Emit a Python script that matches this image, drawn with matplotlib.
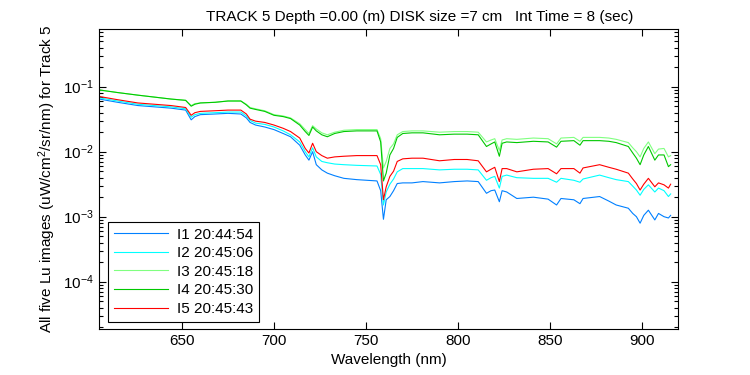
import numpy as np
import matplotlib
matplotlib.use("Agg")
import matplotlib.pyplot as plt
from matplotlib.ticker import LogLocator, LogFormatterMathtext, NullFormatter

plt.rcParams['font.family'] = ['Liberation Sans', 'DejaVu Sans']
plt.rcParams['mathtext.fontset'] = 'custom'
plt.rcParams['mathtext.rm'] = 'Liberation Sans'
plt.rcParams['mathtext.it'] = 'Liberation Sans'

# wavelength grid (nm) and log10 of Lu for each image
wl = [605, 615, 626, 635, 644, 652, 655, 657, 660, 668, 675, 682, 685, 687, 690,
      695, 700, 705, 709, 714, 717, 719, 721, 723, 726, 729, 733, 738, 745, 756,
      758, 759.5, 761, 763, 765, 767, 770, 775, 781, 790, 798, 805, 811, 815.5,
      818, 820, 822.5, 824, 826.5, 832, 841, 849, 853.6, 856, 863, 866.3, 868,
      877, 882, 886, 892.6, 895, 897, 899, 901, 903.5, 907, 909, 912, 914.4, 915.6]

i1_log = [-1.19, -1.24, -1.29, -1.31, -1.33, -1.36, -1.51, -1.46, -1.43, -1.42, -1.41,
          -1.42, -1.48, -1.55, -1.59, -1.62, -1.66, -1.72, -1.77, -1.90, -2.05, -2.13,
          -2.00, -2.20, -2.28, -2.33, -2.37, -2.41, -2.43, -2.45, -2.60, -3.04, -2.74,
          -2.69, -2.60, -2.49, -2.48, -2.48, -2.46, -2.48, -2.46, -2.45, -2.46, -2.64,
          -2.60, -2.59, -2.77, -2.60, -2.62, -2.72, -2.70, -2.73, -2.82, -2.72, -2.74,
          -2.80, -2.72, -2.69, -2.76, -2.82, -2.87, -2.95, -3.00, -3.10, -2.98, -2.90,
          -3.05, -2.95, -3.00, -3.02, -2.98]
i2_log = [-1.17, -1.22, -1.27, -1.29, -1.31, -1.34, -1.47, -1.43, -1.41, -1.40, -1.39,
          -1.39, -1.45, -1.52, -1.56, -1.58, -1.62, -1.68, -1.74, -1.85, -2.00, -2.08,
          -1.94, -2.08, -2.15, -2.17, -2.19, -2.20, -2.21, -2.22, -2.35, -2.82, -2.62,
          -2.50, -2.42, -2.31, -2.26, -2.26, -2.26, -2.28, -2.27, -2.27, -2.28, -2.44,
          -2.40, -2.38, -2.56, -2.38, -2.36, -2.40, -2.41, -2.41, -2.47, -2.41, -2.44,
          -2.47, -2.42, -2.36, -2.40, -2.43, -2.46, -2.53, -2.59, -2.67, -2.58, -2.51,
          -2.62, -2.56, -2.60, -2.69, -2.65]
i3_log = [-1.05, -1.09, -1.13, -1.16, -1.19, -1.21, -1.29, -1.26, -1.25, -1.24, -1.22,
          -1.22, -1.27, -1.32, -1.34, -1.37, -1.43, -1.45, -1.48, -1.57, -1.66, -1.72,
          -1.60, -1.65, -1.71, -1.74, -1.70, -1.67, -1.66, -1.66, -1.80, -2.25, -2.15,
          -1.95, -1.88, -1.74, -1.69, -1.68, -1.68, -1.70, -1.69, -1.69, -1.70, -1.85,
          -1.82, -1.80, -1.98, -1.82, -1.80, -1.81, -1.79, -1.80, -1.88, -1.79, -1.78,
          -1.84, -1.78, -1.78, -1.79, -1.81, -1.86, -1.94, -2.00, -2.08, -1.95, -1.85,
          -2.03, -1.96, -1.95, -2.08, -2.06]
i4_log = [-1.05, -1.09, -1.13, -1.16, -1.19, -1.21, -1.30, -1.27, -1.25, -1.24, -1.22,
          -1.22, -1.28, -1.33, -1.35, -1.38, -1.44, -1.46, -1.49, -1.59, -1.69, -1.75,
          -1.62, -1.68, -1.74, -1.77, -1.72, -1.69, -1.68, -1.68, -1.85, -2.45, -2.33,
          -2.05, -1.95, -1.78, -1.72, -1.71, -1.71, -1.74, -1.73, -1.73, -1.74, -1.92,
          -1.88, -1.85, -2.07, -1.87, -1.85, -1.86, -1.84, -1.85, -1.93, -1.84, -1.83,
          -1.90, -1.83, -1.83, -1.84, -1.86, -1.92, -2.02, -2.10, -2.20, -2.05, -1.92,
          -2.13, -2.05, -2.05, -2.23, -2.20]
i5_log = [-1.15, -1.20, -1.25, -1.27, -1.29, -1.32, -1.44, -1.40, -1.38, -1.37, -1.36,
          -1.36, -1.42, -1.50, -1.53, -1.55, -1.59, -1.64, -1.69, -1.79, -1.95, -2.02,
          -1.87, -2.00, -2.06, -2.10, -2.08, -2.07, -2.06, -2.06, -2.20, -2.74, -2.54,
          -2.38, -2.30, -2.15, -2.11, -2.10, -2.10, -2.14, -2.12, -2.12, -2.14, -2.31,
          -2.27, -2.24, -2.46, -2.26, -2.26, -2.31, -2.27, -2.26, -2.34, -2.26, -2.26,
          -2.33, -2.25, -2.20, -2.24, -2.27, -2.33, -2.42, -2.49, -2.59, -2.50, -2.41,
          -2.54, -2.48, -2.51, -2.56, -2.50]

labels = ["I1 20:44:54", "I2 20:45:06", "I3 20:45:18", "I4 20:45:30", "I5 20:45:43"]
colors = ["#0080FF", "#00FFFF", "#80FF80", "#00C800", "#FF0000"]
series = [i1_log, i2_log, i3_log, i4_log, i5_log]

fig = plt.figure(figsize=(7.5, 3.75), dpi=100)
ax = fig.add_axes([0.132, 0.1227, 0.772, 0.8])

for s, c, lab in zip(series, colors, labels):
    ax.semilogy(wl, np.power(10.0, s), color=c, lw=0.8, label=lab)

ax.set_xlim(604.9, 919.6)
ax.set_ylim(10 ** -4.728, 10 ** -0.112)
ax.set_xticks([650, 700, 750, 800, 850, 900])
ax.yaxis.set_major_locator(LogLocator(base=10, numticks=10))
ax.yaxis.set_major_formatter(LogFormatterMathtext())
ax.yaxis.set_minor_locator(LogLocator(base=10, subs=np.arange(2, 10), numticks=20))
ax.yaxis.set_minor_formatter(NullFormatter())
ax.tick_params(which='both', direction='in', top=True, right=True, labelsize=11)
ax.tick_params(which='major', length=5, width=0.8)
ax.tick_params(which='minor', length=3, width=0.8)
for sp in ax.spines.values():
    sp.set_linewidth(0.8)

ax.set_xlabel("Wavelength (nm)", fontsize=11)
ax.set_ylabel("All five Lu images (uW/cm$^2$/sr/nm) for Track 5", fontsize=11)
ax.set_title("TRACK 5 Depth =0.00 (m) DISK size =7 cm   Int Time = 8 (sec)",
             fontsize=11, x=0.554)

leg = ax.legend(loc='lower left', bbox_to_anchor=(0.0155, 0.023), borderaxespad=0,
                fontsize=11, handlelength=3.5, handletextpad=0.6, fancybox=False,
                edgecolor='black', framealpha=1, labelspacing=0.3, borderpad=0.4)
leg.get_frame().set_linewidth(0.8)

fig.savefig("out.png", dpi=100)
